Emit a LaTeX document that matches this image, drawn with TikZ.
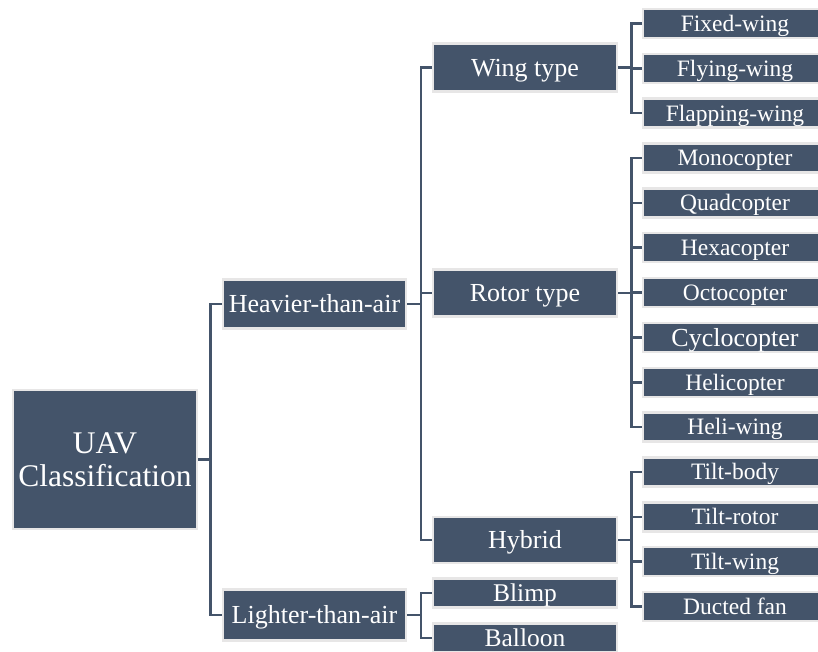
\documentclass[tikz,border=0pt]{standalone}
\usepackage{fontspec}
\setmainfont{Liberation Serif}
\definecolor{boxfill}{HTML}{44546A}
\definecolor{boxedge}{HTML}{E7E6E6}
\tikzset{
  box/.style={fill=boxfill, draw=boxedge, line width=2.5pt, text=white, inner sep=0pt, text depth=0pt, minimum width=184pt},
  leafbox/.style={box, minimum height=29pt, text height=15.6pt, font=\fontsize{23.5}{26}\selectfont},
  bigleaf/.style={leafbox, text height=17.2pt, font=\fontsize{26}{30}\selectfont},
  midbox/.style={box, text height=17.2pt, font=\fontsize{26}{30}\selectfont},
  smallmid/.style={box, minimum height=29pt, text height=16.9pt, font=\fontsize{25.5}{30}\selectfont},
  link/.style={draw=boxfill, line width=2.5pt}
}
\begin{document}
\begin{tikzpicture}[x=1pt,y=-1pt]
\useasboundingbox (0,0) rectangle (818,651);
\clip (0,0) rectangle (818,651);
% root
\node[box, minimum height=139pt, align=center, text height=, text depth=, font=\fontsize{31.5}{33}\selectfont] (root) at (105,459.5) {UAV\\Classification};
% level 1
\node[midbox, minimum width=183pt, minimum height=49pt] (heavy) at (314.5,304) {Heavier-than-air};
\node[midbox, minimum width=183pt, minimum height=51pt] (light) at (314.5,615) {Lighter-than-air};
% level 2
\node[midbox, minimum height=48pt] (wing) at (525,67.5) {Wing type};
\node[midbox, minimum height=47pt] (rotor) at (525,293) {Rotor type};
\node[midbox, minimum height=46pt] (hybrid) at (525,540) {Hybrid};
\node[smallmid] (blimp) at (525,593) {Blimp};
\node[smallmid] (balloon) at (525,638) {Balloon};
% leaves
\node[leafbox] (fixed) at (735,23.5) {Fixed-wing};
\node[leafbox] (flying) at (735,68.4) {Flying-wing};
\node[leafbox] (flapping) at (735,113.2) {Flapping-wing};
\node[leafbox] (mono) at (735,158) {Monocopter};
\node[leafbox] (quad) at (735,202.9) {Quadcopter};
\node[leafbox] (hexa) at (735,247.7) {Hexacopter};
\node[leafbox] (octo) at (735,292.6) {Octocopter};
\node[bigleaf] (cyclo) at (735,337.4) {Cyclocopter};
\node[leafbox] (heli) at (735,382.3) {Helicopter};
\node[leafbox] (heliwing) at (735,427.1) {Heli-wing};
\node[leafbox] (tiltbody) at (735,472) {Tilt-body};
\node[leafbox] (tiltrotor) at (735,516.8) {Tilt-rotor};
\node[leafbox] (tiltwing) at (735,561.7) {Tilt-wing};
\node[leafbox] (ducted) at (735,606.5) {Ducted fan};
% connectors
\foreach \n in {heavy,light} \draw[link] (root.east) -- ++(12,0) |- (\n.west);
\foreach \n in {wing,rotor,hybrid} \draw[link] (heavy.east) -- ++(13.5,0) |- (\n.west);
\foreach \n in {blimp,balloon} \draw[link] (light.east) -- ++(13.5,0) |- (\n.west);
\foreach \n in {fixed,flying,flapping} \draw[link] (wing.east) -- ++(13,0) |- (\n.west);
\foreach \n in {mono,quad,hexa,octo,cyclo,heli,heliwing} \draw[link] (rotor.east) -- ++(13,0) |- (\n.west);
\foreach \n in {tiltbody,tiltrotor,tiltwing,ducted} \draw[link] (hybrid.east) -- ++(13,0) |- (\n.west);
\end{tikzpicture}
\end{document}
